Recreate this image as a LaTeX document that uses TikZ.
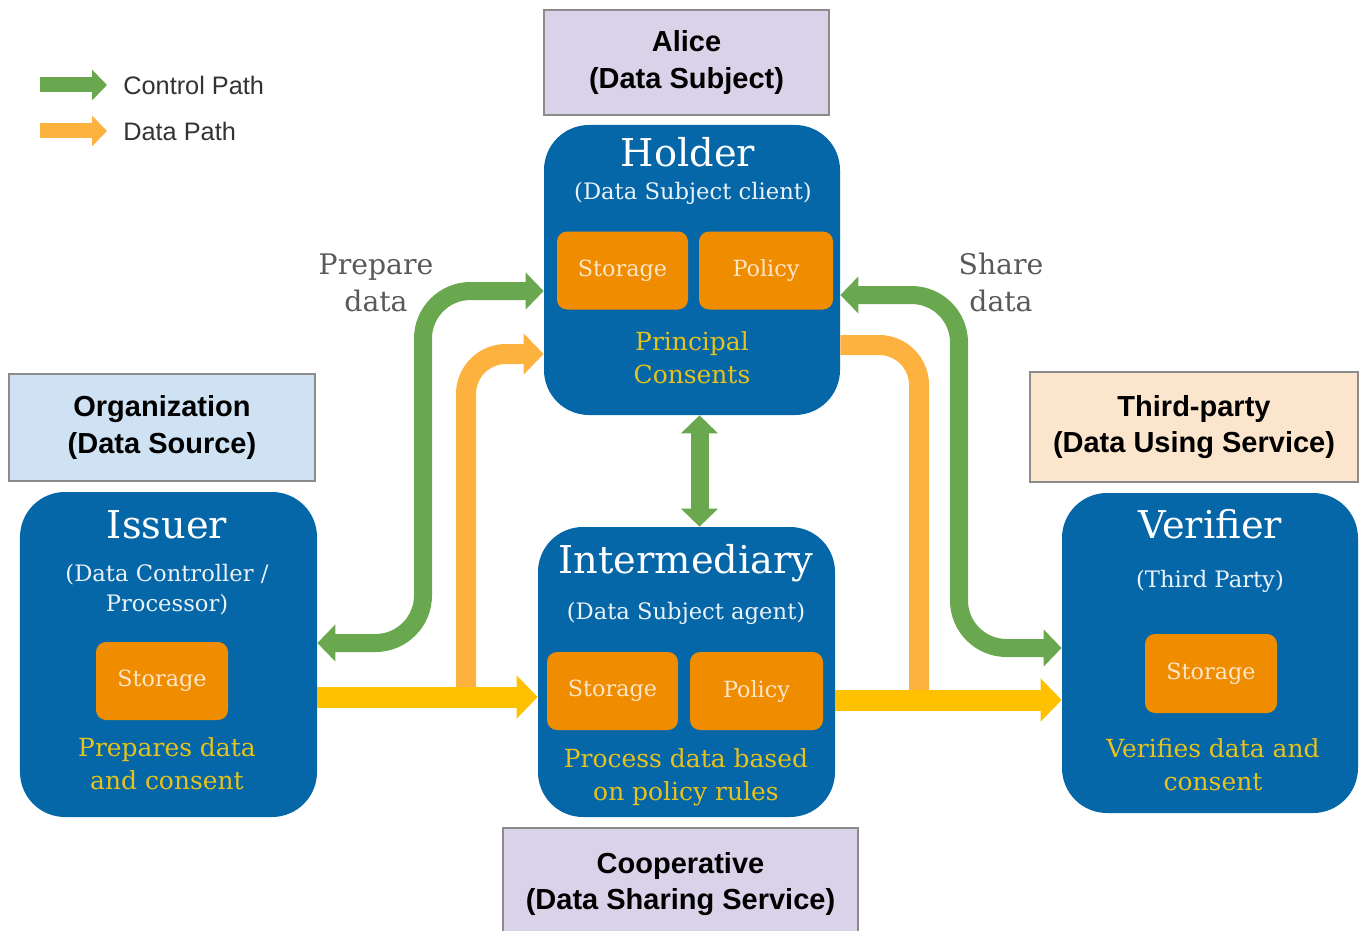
\documentclass[tikz,border=0pt]{standalone}
\usepackage{fontspec}
\setmainfont{DejaVu Serif}
\newfontfamily\labfont{Liberation Sans}
\usetikzlibrary{arrows.meta, positioning}
\definecolor{boxblue}{HTML}{0667A8}
\definecolor{boxorange}{HTML}{EF8C00}
\definecolor{noteyellow}{HTML}{E6C21C}
\definecolor{ctrlgreen}{HTML}{6AA84F}
\definecolor{dataorange}{HTML}{FDB23F}
\definecolor{datayellow}{HTML}{FFC000}
\definecolor{lilac}{HTML}{D9D2E9}
\definecolor{paleblue}{HTML}{CFE2F3}
\definecolor{peach}{HTML}{FCE5CD}
\definecolor{cream}{HTML}{FDE6C8}

\begin{document}
\begin{tikzpicture}[>={Triangle[width=0pt 2, length=0pt 1]},
  bigbox/.style={fill=boxblue, rounded corners=0.9cm, minimum width=5.92cm, inner sep=0pt},
  innerbox/.style={fill=boxorange, rounded corners=0.2cm, minimum width=2.62cm, minimum height=1.56cm,
    inner sep=0pt, text=cream, font=\fontsize{12.7}{15}\selectfont},
  labelbox/.style={fill=#1, draw=gray!90, line width=0.8pt, align=center, inner sep=0pt,
    font=\labfont\bfseries\fontsize{16.5}{20.5}\selectfont},
  title/.style={text=white, font=\fontsize{21.8}{26}\selectfont},
  subtitle/.style={text=white!92!boxblue, align=center, font=\fontsize{12.9}{17}\selectfont},
  note/.style={text=noteyellow, align=center, font=\fontsize{14.2}{18.8}\selectfont},
  pathlabel/.style={text=black!65, align=center, font=\fontsize{16.1}{21}\selectfont},
  legendtext/.style={text=black!80, anchor=west, inner sep=0pt, font=\labfont\fontsize{14.4}{16}\selectfont},
  ctrl/.style={draw=ctrlgreen, line width=0.36cm, rounded corners=0.95cm},
  datapath/.style={draw=dataorange, line width=0.4cm, rounded corners=0.8cm},
  datayel/.style={draw=datayellow, line width=0.42cm}]
\useasboundingbox (0,0) rectangle (27.18,-18.62);

% legend
\node[legendtext] (ctrllabel) at (2.46,-1.7) {Control Path};
\node[legendtext] (datalabel) at (2.46,-2.62) {Data Path};
\draw[ctrl, line width=0.3cm, ->] ([xshift=-1.66cm]ctrllabel.west) -- ([xshift=-0.32cm]ctrllabel.west);
\draw[datapath, line width=0.3cm, ->] ([xshift=-1.66cm]datalabel.west) -- ([xshift=-0.32cm]datalabel.west);

% holder
\node[labelbox=lilac, minimum width=5.7cm, minimum height=2.1cm] (alice) at (13.73,-1.25) {Alice\\(Data Subject)};
\node[bigbox, minimum height=5.8cm] (holder) at (13.84,-5.40) {};
\node[title] (holdertitle) at (13.76,-3.04) {Holder};
\node[subtitle] (holdersub) at (13.86,-3.86) {(Data Subject client)};
\node[innerbox] (hstorage) at (12.45,-5.41) {Storage};
\node[innerbox, minimum width=2.68cm] (hpolicy) at (15.32,-5.41) {Policy};
\node[note] (holdernote) at (13.84,-7.15) {Principal\\Consents};

% issuer
\node[labelbox=paleblue, minimum width=6.12cm, minimum height=2.14cm] (org) at (3.24,-8.55) {Organization\\(Data Source)};
\node[bigbox, minimum height=6.5cm, minimum width=5.94cm] (issuer) at (3.37,-13.09) {};
\node[title] (issuertitle) at (3.34,-10.5) {Issuer};
\node[subtitle] (issuersub) at (3.34,-11.8) {(Data Controller /\\Processor)};
\node[innerbox, minimum width=2.64cm] (istorage) at (3.24,-13.62) {Storage};
\node[note] (issuernote) at (3.34,-15.28) {Prepares data\\and consent};

% intermediary
\node[bigbox, minimum height=5.8cm, minimum width=5.94cm] (inter) at (13.73,-13.44) {};
\node[title] (intertitle) at (13.72,-11.26) {Intermediary};
\node[subtitle] (intersub) at (13.72,-12.26) {(Data Subject agent)};
\node[innerbox] (mstorage) at (12.25,-13.82) {Storage};
\node[innerbox, minimum width=2.66cm] (mpolicy) at (15.13,-13.82) {Policy};
\node[note] (internote) at (13.72,-15.54) {Process data based\\on policy rules};
\node[labelbox=lilac, minimum width=7.1cm, minimum height=2.24cm] (coop) at (13.61,-17.68) {Cooperative\\(Data Sharing Service)};

% verifier
\node[labelbox=peach, minimum width=6.56cm, minimum height=2.2cm] (third) at (23.88,-8.54) {Third-party\\(Data Using Service)};
\node[bigbox, minimum height=6.4cm] (verifier) at (24.2,-13.06) {};
\node[title] (veriftitle) at (24.2,-10.48) {Verifier};
\node[subtitle] (verifsub) at (24.2,-11.62) {(Third Party)};
\node[innerbox, minimum width=2.64cm, minimum height=1.58cm] (vstorage) at (24.22,-13.47) {Storage};
\node[note] (verifnote) at (24.26,-15.3) {Verifies data and\\consent};

\node[pathlabel] (prepare) at (7.52,-5.65) {Prepare\\data};
\node[pathlabel] (share) at (20.02,-5.65) {Share\\data};

% data path
\draw[datapath, ->] (9.32,-13.9) -- (9.32,-7.08) -- (holder.west |- 0,-7.08);
\draw[datapath] (holder.east |- 0,-6.9) -- (18.38,-6.9) -- (18.38,-13.95);
\draw[datayel, ->] (issuer.east |- 0,-13.94) -- (inter.west |- 0,-13.94);
\draw[datayel, ->] (inter.east |- 0,-14.0) -- (verifier.west |- 0,-14.0);

% control path
\draw[ctrl, <->] (issuer.east |- 0,-12.86) -- (8.46,-12.86) -- (8.46,-5.82) -- (holder.west |- 0,-5.82);
\draw[ctrl, <->] (holder.east |- 0,-5.9) -- (19.18,-5.9) -- (19.18,-12.96) -- (verifier.west |- 0,-12.96);
\draw[ctrl, <->] (holder.south -| 13.99,0) -- (inter.north -| 13.99,0);
\end{tikzpicture}
\end{document}
